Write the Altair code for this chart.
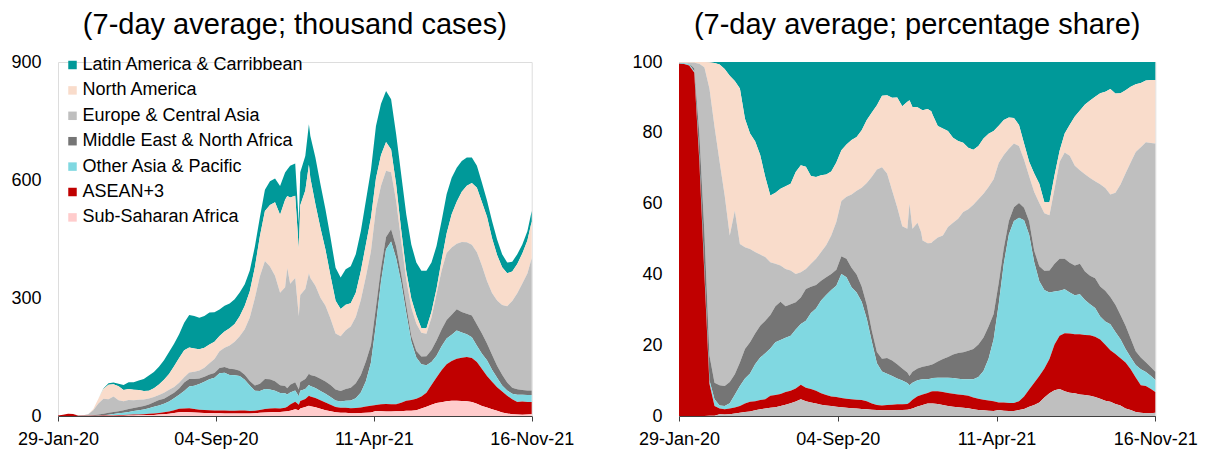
import altair as alt
import pandas as pd

# ---------------- data ----------------
DATES = [
    "2020-01-29", "2020-02-05", "2020-02-12", "2020-02-19", "2020-02-26", "2020-03-04", "2020-03-11",
    "2020-03-18", "2020-03-25", "2020-04-01", "2020-04-08", "2020-04-15", "2020-04-22", "2020-04-29",
    "2020-05-06", "2020-05-13", "2020-05-20", "2020-05-27", "2020-06-03", "2020-06-10", "2020-06-17",
    "2020-06-24", "2020-07-01", "2020-07-08", "2020-07-15", "2020-07-22", "2020-07-29", "2020-08-05",
    "2020-08-12", "2020-08-19", "2020-08-26", "2020-09-02", "2020-09-09", "2020-09-16", "2020-09-23",
    "2020-09-30", "2020-10-07", "2020-10-14", "2020-10-21", "2020-10-28", "2020-11-04", "2020-11-11",
    "2020-11-18", "2020-11-25", "2020-12-02", "2020-12-09", "2020-12-12", "2020-12-16", "2020-12-23",
    "2020-12-28", "2020-12-30", "2021-01-06", "2021-01-11", "2021-01-13", "2021-01-20", "2021-01-27",
    "2021-02-03", "2021-02-10", "2021-02-17", "2021-02-24", "2021-03-03", "2021-03-10", "2021-03-17",
    "2021-03-24", "2021-03-31", "2021-04-07", "2021-04-14", "2021-04-21", "2021-04-28", "2021-05-05",
    "2021-05-12", "2021-05-19", "2021-05-26", "2021-06-02", "2021-06-09", "2021-06-16", "2021-06-23",
    "2021-06-30", "2021-07-07", "2021-07-14", "2021-07-21", "2021-07-28", "2021-08-04", "2021-08-11",
    "2021-08-18", "2021-08-25", "2021-09-01", "2021-09-08", "2021-09-15", "2021-09-22", "2021-09-29",
    "2021-10-06", "2021-10-13", "2021-10-20", "2021-10-27", "2021-11-03", "2021-11-10", "2021-11-16",
]

# world total, thousand cases (7-day average)
TOTAL = [
    1.5, 3.0, 5.5, 5.0, 1.2, 2.2, 5.0,
    18, 44, 70, 83, 85, 82, 79,
    86, 86, 90, 94, 103, 112, 125,
    142, 163, 184, 208, 237, 257, 254,
    250, 254, 263, 264, 271, 280, 286,
    297, 314, 335, 370, 430, 505, 575,
    597, 604, 585, 619, 627, 636, 642,
    490, 620, 661, 742, 712, 657, 589,
    525, 453, 377, 352, 373, 381, 411,
    470, 547, 625, 737, 794, 826, 805,
    716, 614, 513, 436, 390, 369, 369,
    390, 432, 496, 564, 606, 631, 648,
    657, 657, 636, 593, 548, 496, 449,
    411, 390, 392, 411, 436, 470, 521,
]

# shares of the world total, per cent
SSA = [
    0, 0, 0, 0, 0, 0, 0.1,
    0.1, 0.5, 0.4, 0.5, 0.7, 0.9, 1.1,
    1.3, 1.6, 1.9, 2.1, 2.3, 2.5, 2.8,
    3.2, 3.6, 4.1, 4.7, 4.2, 3.8, 3.5,
    3.2, 3.0, 2.8, 2.6, 2.5, 2.3, 2.2,
    2.1, 2.0, 1.9, 1.8, 1.7, 1.6, 1.6,
    1.6, 1.7, 1.7, 1.8, 1.9, 2.1, 2.7,
    3.0, 3.1, 3.5, 3.5, 3.5, 3.4, 3.1,
    2.8, 2.6, 2.5, 2.3, 2.2, 1.9, 1.7,
    1.6, 1.5, 1.4, 1.7, 1.5, 1.4, 1.4,
    1.7, 2.0, 2.6, 3.1, 3.8, 5.2, 6.4,
    7.3, 7.6, 7.0, 6.6, 6.4, 6.1, 5.9,
    5.7, 5.4, 4.9, 4.3, 4.0, 3.4, 3.0,
    2.1, 1.7, 1.1, 0.9, 0.8, 0.8, 0.9,
]
ASEAN3 = [
    99.5, 99.4, 99.0, 97.0, 72.0, 40.0, 9.0,
    2.7, 1.6, 1.5, 1.6, 1.7, 1.9, 2.4,
    2.7, 2.6, 2.6, 2.6, 3.4, 3.4, 3.4,
    3.6, 3.5, 3.7, 4.1, 3.8, 3.8, 3.6,
    3.2, 2.9, 2.7, 2.8, 2.6, 2.6, 2.5,
    2.5, 2.5, 2.3, 1.7, 1.4, 1.4, 1.5,
    1.6, 1.6, 1.6, 1.6, 1.9, 2.5, 2.9,
    2.9, 3.0, 3.0, 3.4, 3.5, 3.6, 3.7,
    3.7, 3.7, 3.6, 3.6, 3.5, 3.3, 3.2,
    3.0, 2.9, 2.8, 2.1, 2.3, 2.3, 2.3,
    2.5, 3.5, 4.9, 6.3, 7.5, 8.2, 9.7,
    12.9, 15.1, 16.4, 16.7, 16.7, 17.0, 17.0,
    17.1, 17.0, 16.7, 15.8, 14.6, 14.1, 13.3,
    13.0, 11.5, 9.8, 7.8, 7.7, 6.8, 5.9,
]
OTHER_ASIA = [
    0.2, 0.3, 0.4, 0.4, 1.0, 1.0, 1.0,
    1.9, 0.9, 0.9, 1.5, 3.6, 5.7, 7.1,
    8.0, 10.4, 12.0, 13.0, 13.4, 14.9, 15.3,
    15.3, 15.6, 16.6, 17.2, 18.9, 21.5, 23.3,
    26.2, 28.3, 30.1, 31.4, 35.0, 34.3, 31.7,
    30.3, 27.8, 23.3, 17.5, 11.8, 9.6, 8.8,
    8.1, 7.3, 6.7, 5.9, 4.9, 4.8, 4.5,
    4.4, 4.3, 3.9, 3.7, 3.7, 3.8, 4.0,
    4.3, 4.4, 4.4, 4.5, 4.7, 5.2, 6.1,
    8.1, 11.8, 17.5, 27.8, 39.2, 47.6, 51.4,
    51.8, 49.8, 43.7, 34.0, 26.8, 22.2, 18.8,
    15.0, 12.7, 12.4, 11.6, 11.0, 11.3, 9.9,
    8.8, 8.1, 6.5, 6.6, 7.3, 6.2, 5.4,
    3.8, 3.4, 3.5, 4.5, 3.9, 3.7, 3.4,
]
MENA = [
    0, 0, 0.1, 0.8, 7.0, 11.0, 7.0,
    4.7, 5.7, 5.7, 6.0, 5.8, 6.6, 8.3,
    8.8, 8.7, 9.0, 9.2, 9.4, 10.2, 10.8,
    8.9, 8.9, 7.7, 7.5, 9.0, 7.4, 6.6,
    5.6, 5.0, 4.5, 4.5, 5.0, 5.2, 5.5,
    5.1, 4.3, 3.9, 3.1, 3.2, 3.6, 4.5,
    4.4, 4.0, 3.4, 3.0, 2.6, 3.1, 3.3,
    3.5, 3.5, 3.8, 3.9, 3.9, 4.6, 5.3,
    5.9, 6.7, 7.3, 7.6, 8.0, 8.5, 9.2,
    9.5, 9.1, 7.1, 6.0, 4.4, 3.8, 3.9,
    4.2, 3.5, 3.8, 3.3, 4.2, 5.4, 6.2,
    7.8, 9.0, 8.6, 8.4, 8.4, 8.6, 8.0,
    8.0, 8.4, 8.5, 8.7, 7.7, 7.7, 6.8,
    6.6, 5.3, 3.9, 3.3, 2.8, 2.5, 2.3,
]
EUROPE = [
    0.1, 0.1, 0.3, 1.6, 19.5, 46.5, 75.4,
    72.3, 63.1, 53.8, 41.4, 46.2, 33.5, 28.8,
    26.4, 23.0, 20.1, 18.0, 14.9, 12.0, 10.2,
    10.5, 9.5, 8.0, 7.1, 5.6, 6.5, 7.4,
    8.1, 9.0, 10.9, 13.5, 15.6, 17.5, 20.7,
    23.6, 27.9, 34.4, 43.5, 51.5, 54.1, 52.1,
    48.0, 44.4, 40.2, 40.6, 48.7, 40.4, 41.2,
    38.1, 35.7, 34.6, 34.4, 34.7, 35.0, 34.9,
    36.7, 37.2, 37.9, 39.6, 40.0, 40.8, 41.0,
    40.6, 39.4, 38.1, 33.9, 26.3, 20.4, 18.0,
    16.1, 13.6, 12.7, 16.6, 17.9, 16.3, 15.6,
    21.2, 27.4, 30.0, 30.2, 28.2, 26.4, 27.5,
    27.6, 27.4, 28.9, 29.0, 29.0, 31.7, 36.9,
    43.1, 49.7, 56.3, 59.4, 62.1, 63.3, 64.5,
]
NORTH_AM = [
    0.2, 0.2, 0.2, 0.2, 0.5, 1.5, 7.4,
    18.0, 27.5, 35.7, 45.1, 36.6, 43.9, 36.3,
    32.6, 31.3, 28.1, 22.6, 18.9, 20.1, 21.7,
    23.4, 24.5, 28.8, 30.2, 28.9, 24.8, 23.1,
    21.7, 20.0, 18.1, 16.8, 14.4, 14.8, 15.4,
    15.2, 16.2, 17.8, 18.1, 18.2, 20.2, 22.1,
    26.2, 31.0, 33.9, 35.9, 29.2, 34.4, 32.6,
    34.7, 36.8, 37.9, 37.2, 35.7, 31.5, 30.2,
    27.1, 24.0, 22.0, 19.6, 17.4, 15.5, 15.1,
    15.6, 15.0, 13.6, 10.5, 9.9, 8.8, 7.2,
    5.9, 4.6, 4.1, 5.2, 5.4, 3.1, 3.7,
    3.8, 3.1, 5.4, 8.8, 13.9, 16.9, 19.7,
    21.9, 23.9, 25.7, 27.2, 29.8, 28.0, 25.8,
    23.4, 21.4, 19.1, 18.2, 17.5, 17.8, 17.9,
]
LATAM = [
    0, 0, 0, 0, 0, 0, 0.1,
    0.3, 0.7, 2.0, 3.9, 5.4, 7.5, 16.0,
    20.2, 22.4, 26.3, 32.5, 37.7, 36.9, 35.8,
    35.1, 34.4, 31.1, 29.2, 29.6, 32.2, 32.5,
    32.0, 31.8, 30.9, 28.4, 24.9, 23.3, 22.0,
    21.2, 19.3, 16.4, 14.3, 12.2, 9.5, 9.4,
    10.1, 10.0, 12.5, 11.2, 10.8, 12.7, 12.8,
    13.4, 13.6, 13.3, 13.9, 15.0, 18.1, 18.8,
    19.5, 21.4, 22.3, 22.8, 24.2, 24.8, 23.7,
    21.6, 20.3, 19.5, 18.0, 16.4, 15.7, 15.8,
    17.8, 23.0, 28.2, 31.5, 34.4, 39.6, 39.6,
    32.0, 25.1, 20.2, 17.7, 15.4, 13.7, 12.0,
    10.9, 9.8, 8.8, 8.4, 7.6, 8.9, 8.8,
    8.0, 7.0, 6.3, 5.9, 5.2, 5.1, 5.1,
]

REGIONS = [
    "Latin America & Carribbean",
    "North America",
    "Europe & Central Asia",
    "Middle East & North Africa",
    "Other Asia & Pacific",
    "ASEAN+3",
    "Sub-Saharan Africa",
]
SERIES = [LATAM, NORTH_AM, EUROPE, MENA, OTHER_ASIA, ASEAN3, SSA]
COLORS_LEFT = ["#009999", "#F9DCCB", "#BFBFBF", "#757575", "#80D8E1", "#C00000", "#FFCCCC"]
COLORS_RIGHT = ["#009999", "#F9DCCB", "#BFBFBF", "#757575", "#80D8E1", "#C00000", "#BFBFBF"]

TITLE_LEFT = "(7-day average; thousand cases)"
TITLE_RIGHT = "(7-day average; percentage share)"
Y_TICKS_LEFT = [0, 300, 600, 900]
Y_TICKS_RIGHT = [0, 20, 40, 60, 80, 100]
X_TICKS = [(2020, 1, 29), (2020, 9, 4), (2021, 4, 11), (2021, 11, 16)]

# ---------------- table ----------------
rows = []
for i, d in enumerate(DATES):
    for k, (reg, ser) in enumerate(zip(REGIONS, SERIES)):
        rows.append({
            "date": d,
            "region": reg,
            "share": ser[i],
            "value": ser[i] * TOTAL[i] / 100.0,
            "rank": len(REGIONS) - k,  # 1 = bottom of the stack
        })
df = pd.DataFrame(rows)

FONT = "Liberation Sans"
tick_dates = [alt.DateTime(year=y, month=m, date=dd, utc=True) for (y, m, dd) in X_TICKS]

x_enc = alt.X(
    "date:T",
    scale=alt.Scale(type="utc", domain=[tick_dates[0], tick_dates[-1]]),
    axis=alt.Axis(
        values=tick_dates,
        labelExpr="utcFormat(datum.value, '%d-%b-%y')",
        title=None, grid=False, domain=True, domainColor="#404040",
        ticks=True, tickColor="#404040", tickSize=5,
        labelFontSize=18, labelFont=FONT, labelColor="#000000",
        labelPadding=9, labelOverlap=False, labelFlush=False,
    ),
)


def y_axis(vals):
    return alt.Axis(
        values=vals, title=None, grid=False, domain=False, ticks=False,
        labelFontSize=18, labelFont=FONT, labelColor="#000000", labelPadding=17,
    )


left = alt.Chart(df).mark_area(interpolate="linear").encode(
    x=x_enc,
    y=alt.Y("value:Q", stack="zero",
            scale=alt.Scale(domain=[0, 900], nice=False),
            axis=y_axis(Y_TICKS_LEFT)),
    color=alt.Color(
        "region:N",
        scale=alt.Scale(domain=REGIONS, range=COLORS_LEFT),
        legend=alt.Legend(
            title=None, orient="none", legendX=5.5, legendY=-6,
            symbolType="square", symbolSize=72, symbolStrokeWidth=0,
            symbolOpacity=1, labelFontSize=18, labelFont=FONT,
            labelColor="#000000", labelLimit=400, labelOffset=1,
            rowPadding=7.4, padding=0,
        ),
    ),
    order=alt.Order("rank:Q", sort="ascending"),
).properties(
    width=473.7, height=354,
    title=alt.Title(TITLE_LEFT, fontSize=29, font=FONT, fontWeight="normal",
                    color="#000000", anchor="middle", frame="group", offset=13),
)

right = alt.Chart(df).mark_area(interpolate="linear").encode(
    x=x_enc,
    y=alt.Y("share:Q", stack="zero",
            scale=alt.Scale(domain=[0, 100], nice=False),
            axis=y_axis(Y_TICKS_RIGHT)),
    color=alt.Color("region:N",
                    scale=alt.Scale(domain=REGIONS, range=COLORS_RIGHT),
                    legend=None),
    order=alt.Order("rank:Q", sort="ascending"),
).properties(
    width=476.3, height=354,
    title=alt.Title(TITLE_RIGHT, fontSize=29, font=FONT, fontWeight="normal",
                    color="#000000", anchor="middle", frame="group", offset=13),
)

chart = alt.hconcat(left, right, spacing=147, bounds="flush").resolve_scale(
    color="independent"
).properties(
    padding={"left": 2, "top": 2, "right": 5, "bottom": 5},
).configure_view(strokeWidth=0).configure(background="#FFFFFF")

chart.save("out.html", embed_options={"renderer": "svg", "actions": False})
